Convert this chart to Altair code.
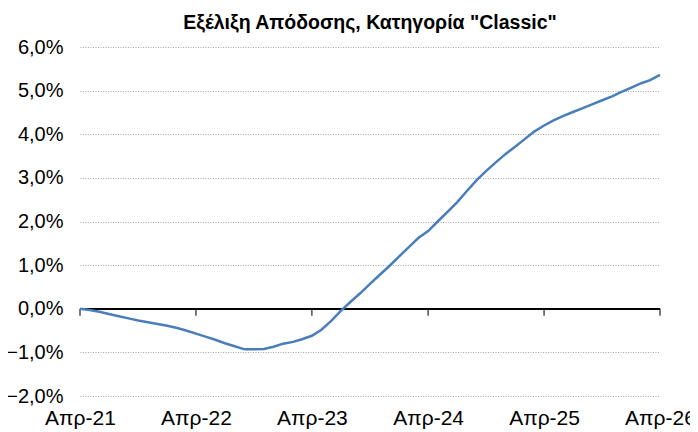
import altair as alt
import pandas as pd

months = pd.date_range("2021-04-01", "2026-04-01", freq="MS").strftime("%Y-%m-%d").tolist()
returns_pct = [
    0.00, -0.03, -0.07, -0.12, -0.17, -0.22, -0.27, -0.31, -0.35, -0.39, -0.44, -0.50,
    -0.57, -0.64, -0.71, -0.79, -0.86, -0.93, -0.93, -0.92, -0.87, -0.80, -0.76, -0.70,
    -0.62, -0.48, -0.28, -0.05, 0.16, 0.36, 0.57, 0.78, 0.98, 1.20, 1.42, 1.62,
    1.78, 2.00, 2.22, 2.44, 2.70, 2.95, 3.16, 3.36, 3.55, 3.72, 3.90, 4.06,
    4.20, 4.32, 4.42, 4.51, 4.60, 4.69, 4.78, 4.87, 4.97, 5.07, 5.17, 5.24,
    5.36,
]
tick_years = [2021, 2022, 2023, 2024, 2025, 2026]
y_ticks = [-2, -1, 0, 1, 2, 3, 4, 5, 6]

df = pd.DataFrame({"date": months, "ret": returns_pct})
ticks_df = pd.DataFrame({"date": [f"{y}-04-01" for y in tick_years], "zero": [0] * len(tick_years)})

FONT = "Liberation Sans"
x_scale = alt.Scale(type="utc", domain=[alt.DateTime(year=2021, month=4, date=1, utc=True),
                                        alt.DateTime(year=2026, month=4, date=1, utc=True)])
y_scale = alt.Scale(domain=[-2, 6], nice=False, zero=False)

x_axis = alt.Axis(
    values=[alt.DateTime(year=y, month=4, date=1, utc=True) for y in tick_years],
    labelExpr="'Απρ-' + utcFormat(datum.value, '%y')",
    title=None, grid=False, domain=False, ticks=False,
    labelFont=FONT, labelFontSize=21, labelColor="black", labelPadding=11,
    labelBaseline="top", labelFlush=False, labelOverlap=False,
)
y_axis = alt.Axis(
    values=y_ticks,
    labelExpr="replace(format(datum.value/100, '.1%'), '.', ',')",
    title=None, domain=False, ticks=False,
    labelFont=FONT, labelFontSize=20, labelColor="black", labelPadding=17,
    grid=True, gridColor="#a8a8a8", gridDash=[1, 1.5], gridWidth=1.2,
)

line = alt.Chart(df).mark_line(color="#4A7EBB", strokeWidth=2.5).encode(
    x=alt.X("date:T", scale=x_scale, axis=x_axis),
    y=alt.Y("ret:Q", scale=y_scale, axis=y_axis),
)

zero_rule = alt.Chart(ticks_df).mark_rule(color="black", strokeWidth=1.5).encode(
    y=alt.Y("zero:Q", scale=y_scale),
    x=alt.value(0), x2=alt.value(580),
)

zero_ticks = alt.Chart(ticks_df).mark_tick(color="black", thickness=1.5, size=7, yOffset=3.5,
                                           orient="vertical").encode(
    x=alt.X("date:T", scale=x_scale),
    y=alt.Y("zero:Q", scale=y_scale),
)

chart = alt.layer(zero_rule, zero_ticks, line).properties(
    width=580, height=349,
    title=alt.TitleParams('Εξέλιξη Απόδοσης, Κατηγορία "Classic"', font=FONT, fontSize=19.5,
                          fontWeight="bold", color="black", anchor="middle", offset=4),
    autosize=alt.AutoSizeParams(type="none"),
    padding={"left": 72, "top": 39, "right": 30, "bottom": 36},
).configure_view(stroke=None)

chart.save("out.html", embed_options={"renderer": "svg", "actions": False})
